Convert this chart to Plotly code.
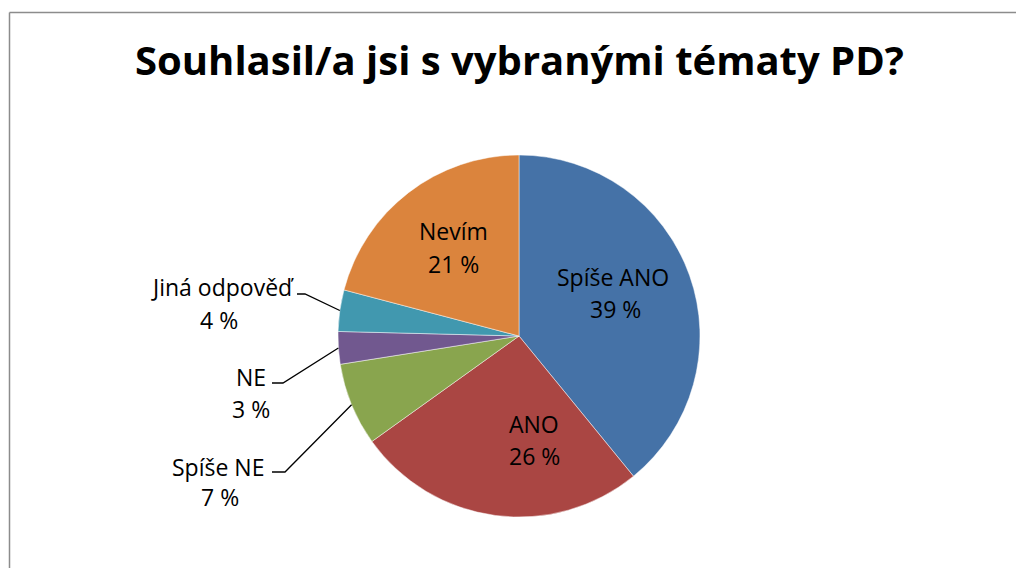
import math
import plotly.graph_objects as go

# ---- data ----
categories = ["Spíše ANO", "ANO", "Spíše NE", "NE", "Jiná odpověď", "Nevím"]
values = [39.1, 26.0, 7.4, 2.9, 3.7, 20.9]
pct_labels = ["39 %", "26 %", "7 %", "3 %", "4 %", "21 %"]
colors = ["#4572A7", "#AA4643", "#89A54E", "#71588F", "#4198AF", "#DB843D"]
title_text = "Souhlasil/a jsi s vybranými tématy PD?"

# ---- layout constants (pixels) ----
W, H = 1016, 568
CX, CY, R = 519, 336, 181
FONT = "Open Sans"
FS = 23

# label centres (px) for name line and percent line
label_pos = {
    "Spíše ANO": ((613, 277), (615, 309)),
    "ANO": ((534, 424), (534, 456)),
    "Spíše NE": ((218, 467), (220, 497)),
    "NE": ((251, 377), (251, 409)),
    "Jiná odpověď": ((222, 287), (219, 320)),
    "Nevím": ((453, 231), (453, 264)),
}
# leader lines: (elbow, end) for outside labels
leaders = {
    "Jiná odpověď": ((305, 294), (297, 294)),
    "NE": ((283, 383), (272, 383)),
    "Spíše NE": ((285, 472), (272, 472)),
}


def px(x):
    return x / W


def py(y):
    return 1 - y / H


fig = go.Figure(
    go.Pie(
        labels=categories,
        values=values,
        sort=False,
        direction="clockwise",
        rotation=0,
        marker=dict(colors=colors, line=dict(color="rgba(255,255,255,0.6)", width=0.8)),
        textinfo="none",
        hoverinfo="label+percent",
        showlegend=False,
        domain=dict(x=[px(CX - R), px(CX + R)], y=[py(CY + R), py(CY - R)]),
    )
)

annotations = []
shapes = []

# title
annotations.append(dict(
    text=title_text, x=px(519), y=py(60), xref="paper", yref="paper",
    xanchor="center", yanchor="middle", showarrow=False,
    font=dict(family=FONT, size=40, color="#000000", weight="bold"),
))

total = sum(values)
cum = 0.0
for cat, v, p in zip(categories, values, pct_labels):
    mid = (cum + v / 2) / total * 2 * math.pi
    cum += v
    (nx, ny), (qx, qy) = label_pos[cat]
    for t, (x, y) in ((cat, (nx, ny)), (p, (qx, qy))):
        annotations.append(dict(
            text=t, x=px(x), y=py(y), xref="paper", yref="paper",
            xanchor="center", yanchor="middle", showarrow=False,
            font=dict(family=FONT, size=FS, color="#000000"),
        ))
    if cat in leaders:
        rx = CX + R * math.sin(mid)
        ry = CY - R * math.cos(mid)
        (ex, ey), (tx, ty) = leaders[cat]
        path = f"M {px(rx)} {py(ry)} L {px(ex)} {py(ey)} L {px(tx)} {py(ty)}"
        shapes.append(dict(type="path", xref="paper", yref="paper", path=path,
                           line=dict(color="#000000", width=1.3)))

# chart border (top and left edges; right/bottom lie outside the view)
shapes.append(dict(type="line", xref="paper", yref="paper",
                   x0=px(9.5), x1=1.05, y0=py(12.5), y1=py(12.5),
                   line=dict(color="#8C8C8C", width=1.5)))
shapes.append(dict(type="line", xref="paper", yref="paper",
                   x0=px(9.5), x1=px(9.5), y0=-0.05, y1=py(12.5),
                   line=dict(color="#8C8C8C", width=1.5)))

fig.update_layout(
    width=W, height=H, autosize=False,
    margin=dict(l=0, r=0, t=0, b=0),
    paper_bgcolor="#FFFFFF", plot_bgcolor="#FFFFFF",
    annotations=annotations, shapes=shapes,
)

fig.write_html(
    "out.html",
    config={"displayModeBar": False},
    post_script="document.body.style.margin='0';document.body.style.overflow='hidden';",
)
